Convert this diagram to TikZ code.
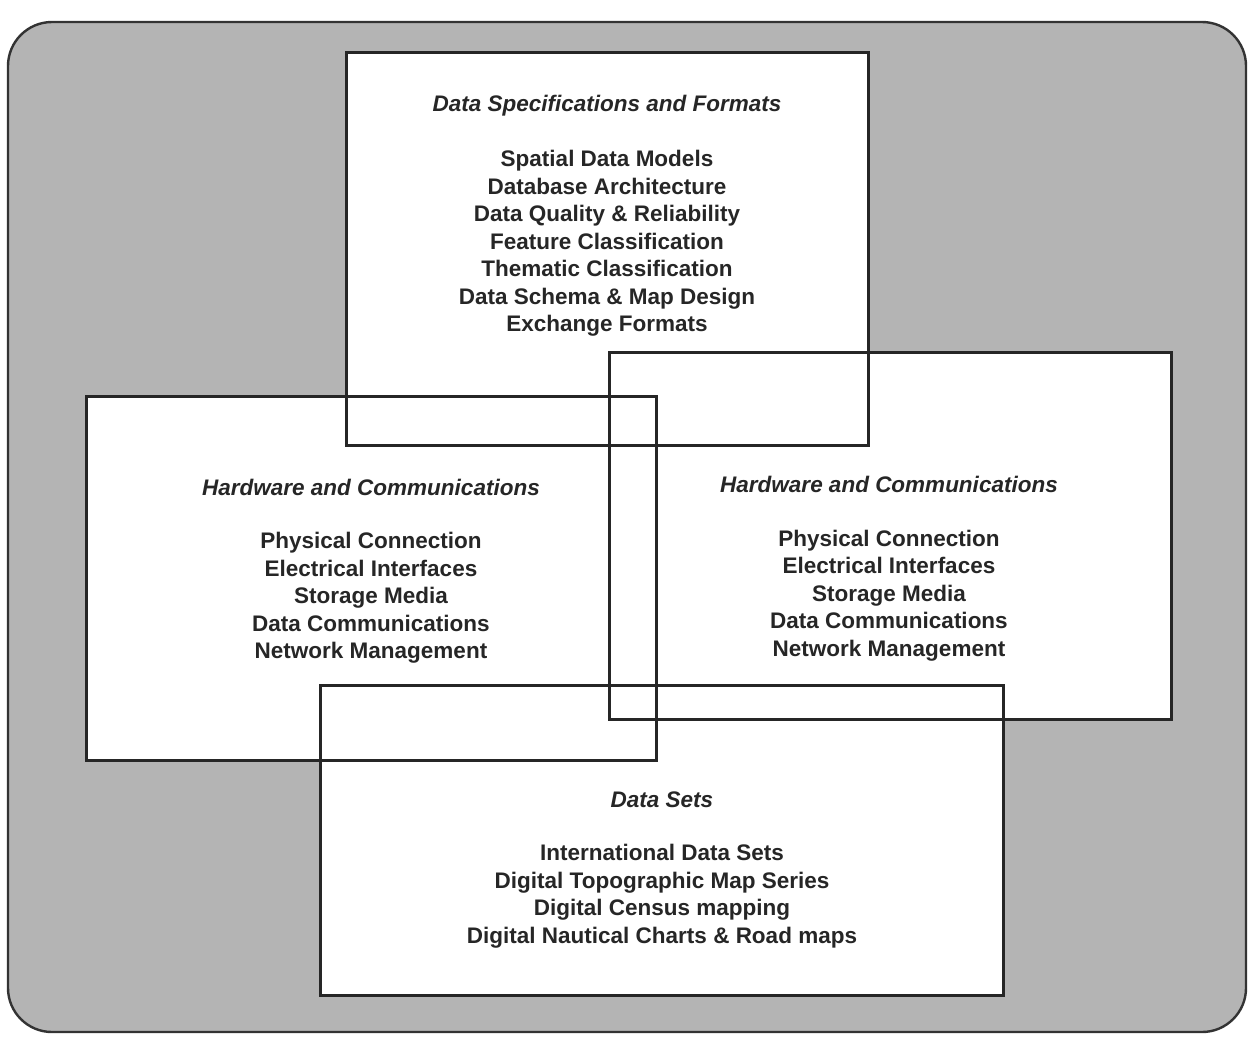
\documentclass[tikz,border=0pt]{standalone}
\usepackage{fontspec}
\setmainfont{Liberation Sans}
\begin{document}
\begin{tikzpicture}[x=1pt,y=-1pt,
  panel/.style={fill=white, draw=none, inner sep=0pt, outer sep=0pt},
  outline/.style={draw=black!85, line width=3pt},
  heading/.style={font=\fontsize{22.5}{27.5}\selectfont\bfseries\itshape, text=black!85},
  items/.style={font=\fontsize{22.5}{27.5}\selectfont\bfseries, text=black!85, align=center}]
\definecolor{halftone}{RGB}{180,180,180}
\useasboundingbox (0,0) rectangle (1249,1037);
\fill[white] (0,0) rectangle (1249,1037);
\draw[fill=halftone, draw=black!80, line width=2.4pt, rounded corners=44pt] (8,22) rectangle (1246,1032);
% panel fills
\node[panel, minimum width=522pt, minimum height=393pt] (topbox) at (607,248.5) {};
\node[panel, minimum width=570pt, minimum height=364pt] (leftbox) at (371,578) {};
\node[panel, minimum width=562pt, minimum height=367pt] (rightbox) at (890,535.5) {};
\node[panel, minimum width=683pt, minimum height=310pt] (bottombox) at (661.5,840) {};
% outlines
\draw[outline] (topbox.south west) rectangle (topbox.north east);
\draw[outline] (leftbox.south west) rectangle (leftbox.north east);
\draw[outline] (rightbox.south west) rectangle (rightbox.north east);
\draw[outline] (bottombox.south west) rectangle (bottombox.north east);
% texts
\node[heading] (toph) at (607,106) {Data Specifications and Formats};
\node[items] (topi) at (607,243.5) {Spatial Data Models\\Database Architecture\\Data Quality \& Reliability\\Feature Classification\\Thematic Classification\\Data Schema \& Map Design\\Exchange Formats};
\node[heading] (lefth) at (371,487) {Hardware and Communications};
\node[items] (lefti) at (371,598) {Physical Connection\\Electrical Interfaces\\Storage Media\\Data Communications\\Network Management};
\node[heading] (righth) at (889,484) {Hardware and Communications};
\node[items] (righti) at (889,595.5) {Physical Connection\\Electrical Interfaces\\Storage Media\\Data Communications\\Network Management};
\node[heading] (both) at (662,800) {Data Sets};
\node[items] (boti) at (662,896) {International Data Sets\\Digital Topographic Map Series\\Digital Census mapping\\Digital Nautical Charts \& Road maps};
\end{tikzpicture}
\end{document}
